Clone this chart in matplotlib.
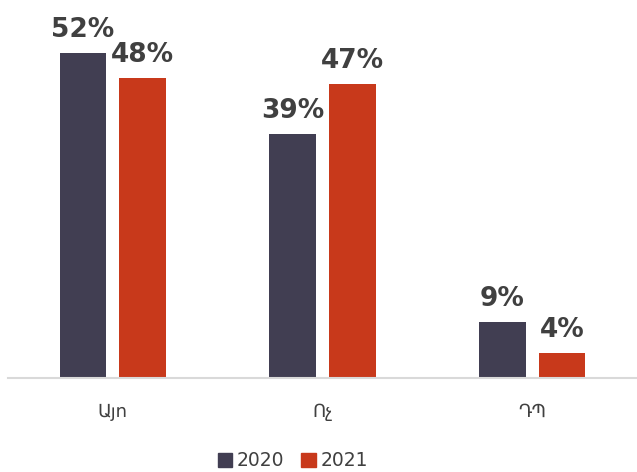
import numpy as np
import matplotlib.pyplot as plt
from matplotlib.patches import Patch

# data
categories = ["Այո", "Ոչ", "ԴՊ"]
series_names = ["2020", "2021"]
values_2020 = [52, 39, 9]
values_2021 = [48, 47, 4]

color_2020 = "#413E52"
color_2021 = "#C8391B"
text_color = "#404040"

fig = plt.figure(figsize=(6.37, 4.72), dpi=100)
ax = fig.add_axes([8 / 637, 94 / 472, 629 / 637, 378 / 472])

x = np.arange(len(categories))
width = 0.223
offset = 0.142

bars_a = ax.bar(x - offset, values_2020, width, color=color_2020)
bars_b = ax.bar(x + offset, values_2021, width, color=color_2021)

# value labels above the bars
for bars, vals in [(bars_a, values_2020), (bars_b, values_2021)]:
    for b, v in zip(bars, vals):
        ax.annotate(f"{v}%", (b.get_x() + b.get_width() / 2, b.get_height()),
                    xytext=(0, 11.5), textcoords="offset points",
                    ha="center", va="baseline", fontsize=19,
                    fontweight="heavy", color=text_color)

ax.set_xlim(-0.5, 2.5)
ax.set_ylim(0, 60.5)
ax.set_xticks(x)
ax.set_xticklabels(categories, fontsize=13, color=text_color)
ax.tick_params(axis="x", length=0, pad=18)
ax.set_yticks([])

for s in ["top", "right", "left"]:
    ax.spines[s].set_visible(False)
ax.spines["bottom"].set_color("#D9D9D9")
ax.spines["bottom"].set_linewidth(1.5)

handles = [Patch(color=color_2020), Patch(color=color_2021)]
fig.legend(handles, series_names, loc="center", bbox_to_anchor=(0.46, 0.024),
           ncol=2, frameon=False, fontsize=13.5, handlelength=0.75,
           handleheight=0.75, handletextpad=0.25, columnspacing=0.9,
           labelcolor=text_color)

fig.savefig("out.png", dpi=100)
